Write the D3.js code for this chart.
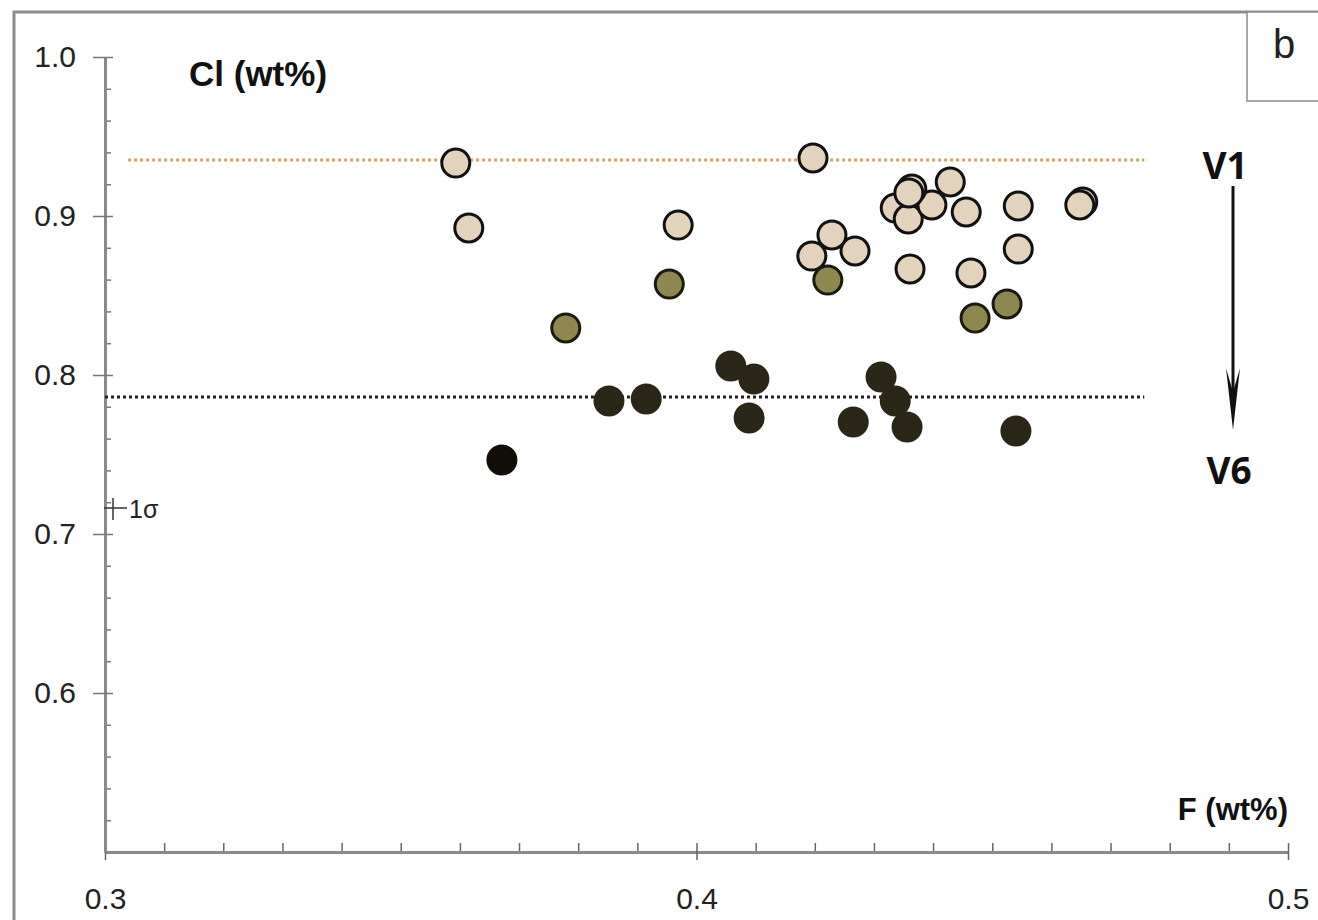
<!DOCTYPE html>
<html>
<head>
<meta charset="utf-8">
<script src="https://cdn.jsdelivr.net/npm/d3@7"></script>
<style>
  body { margin: 0; background: #fff; }
  svg { display: block; font-family: "Liberation Sans", Arial, sans-serif; }
</style>
</head>
<body>
<svg width="1318" height="920"></svg>
<script>
// data: F (wt%), Cl (wt%)
var lightF  = [0.3593, 0.3615, 0.3969, 0.4197, 0.4195, 0.4229, 0.4268, 0.4336, 0.4358, 0.4398, 0.4429,
               0.4456, 0.4544, 0.4653, 0.4648, 0.4361, 0.4464, 0.4544, 0.4364, 0.4359];
var lightCl = [0.9333, 0.8925, 0.8943, 0.9365, 0.8748, 0.8881, 0.8780, 0.9050, 0.8981, 0.9069, 0.9214,
               0.9025, 0.9063, 0.9088, 0.9069, 0.8667, 0.8642, 0.8792, 0.9170, 0.9145];
var oliveF  = [0.3779, 0.3954, 0.4222, 0.4525, 0.4471];
var oliveCl = [0.8296, 0.8572, 0.8597, 0.8447, 0.8358];
var darkF   = [0.3852, 0.3915, 0.4058, 0.4097, 0.4089, 0.4312, 0.4336, 0.4265, 0.4356, 0.4540];
var darkCl  = [0.7836, 0.7849, 0.8057, 0.7975, 0.7730, 0.7987, 0.7836, 0.7704, 0.7673, 0.7648];
var blackF  = [0.3671];
var blackCl = [0.7465];

var v1Level = 0.9352;
var v6Level = 0.7862;

var xMajor = [0.3, 0.4, 0.5];
var yMajor = [0.6, 0.7, 0.8, 0.9, 1.0];

var svg = d3.select("svg");

var axisColor = "#8a8a8a";
var textColor = "#222";

var x = d3.scaleLinear().domain([0.3, 0.5]).range([105, 1288]);
var y = d3.scaleLinear().domain([0.5, 1.0]).range([852, 57]);

// outer frame
svg.append("rect")
    .attr("x", 14).attr("y", 12)
    .attr("width", 1330).attr("height", 930)
    .attr("fill", "none")
    .attr("stroke", "#8c8c8c")
    .attr("stroke-width", 3);

// panel letter box
svg.append("rect")
    .attr("x", 1247).attr("y", 12)
    .attr("width", 90).attr("height", 89)
    .attr("fill", "#fff")
    .attr("stroke", "#8c8c8c")
    .attr("stroke-width", 1.5);
svg.append("text")
    .attr("x", 1284).attr("y", 58)
    .attr("text-anchor", "middle")
    .attr("font-size", 40)
    .attr("fill", textColor)
    .text("b");

// x axis: minor ticks
var xMinor = d3.range(0.31, 0.5, 0.01).filter(function(v) { return Math.abs(v - 0.4) > 0.001; });
svg.append("g")
    .attr("transform", "translate(0," + y(0.5) + ")")
    .call(d3.axisBottom(x).tickValues(xMinor).tickSize(-9).tickFormat(""))
    .call(function(g) {
        g.select(".domain").remove();
        g.selectAll(".tick line").attr("stroke", "#666").attr("stroke-width", 1.5);
    });

// x axis: major ticks + labels
svg.append("g")
    .attr("class", "axis axis--x")
    .attr("transform", "translate(0," + y(0.5) + ")")
    .call(d3.axisBottom(x).tickValues(xMajor).tickSize(8).tickSizeOuter(0).tickPadding(28).tickFormat(d3.format(".1f")))
    .call(function(g) {
        g.select(".domain").attr("stroke", axisColor).attr("stroke-width", 3);
        g.selectAll(".tick line").attr("y1", -9).attr("stroke", "#666").attr("stroke-width", 1.5);
        g.selectAll(".tick text")
            .attr("font-size", 30)
            .attr("fill", textColor);
    });

// y axis: minor ticks
var yMinor = d3.range(0.52, 1.0, 0.02).filter(function(v) { return Math.abs(v * 10 - Math.round(v * 10)) > 0.01; });
svg.append("g")
    .attr("transform", "translate(" + x(0.3) + ",0)")
    .call(d3.axisLeft(y).tickValues(yMinor).tickSize(-6).tickFormat(""))
    .call(function(g) {
        g.select(".domain").remove();
        g.selectAll(".tick line").attr("stroke", "#777").attr("stroke-width", 1.5);
    });

// y axis: major ticks + labels
svg.append("g")
    .attr("class", "axis axis--y")
    .attr("transform", "translate(" + x(0.3) + ",0)")
    .call(d3.axisLeft(y).tickValues(yMajor).tickSize(12).tickSizeOuter(0).tickPadding(17).tickFormat(d3.format(".1f")))
    .call(function(g) {
        g.select(".domain").attr("stroke", axisColor).attr("stroke-width", 3);
        g.selectAll(".tick line").attr("x2", 8).attr("x1", -12).attr("stroke", "#777").attr("stroke-width", 1.5);
        g.selectAll(".tick text").attr("font-size", 30).attr("fill", textColor);
    });

// axis titles
svg.append("text")
    .attr("x", 189).attr("y", 86)
    .attr("font-size", 35)
    .attr("font-weight", "bold")
    .attr("fill", "#111")
    .text("Cl (wt%)");
svg.append("text")
    .attr("x", 1288).attr("y", 820)
    .attr("text-anchor", "end")
    .attr("font-size", 31)
    .attr("font-weight", "bold")
    .attr("fill", "#111")
    .text("F (wt%)");

// reference levels
svg.append("line")
    .attr("x1", x(0.3039)).attr("x2", x(0.4757))
    .attr("y1", y(v1Level)).attr("y2", y(v1Level))
    .attr("stroke", "#d2a860")
    .attr("stroke-width", 3)
    .attr("stroke-dasharray", "3,3");
svg.append("line")
    .attr("x1", x(0.3)).attr("x2", x(0.4757))
    .attr("y1", y(v6Level)).attr("y2", y(v6Level))
    .attr("stroke", "#222")
    .attr("stroke-width", 3)
    .attr("stroke-dasharray", "3,3");

// 1 sigma marker
var sig = svg.append("g");
sig.append("line")
    .attr("x1", 104).attr("x2", 127)
    .attr("y1", 508).attr("y2", 508)
    .attr("stroke", "#333").attr("stroke-width", 1.5);
sig.append("line")
    .attr("x1", 113).attr("x2", 113)
    .attr("y1", 498).attr("y2", 520)
    .attr("stroke", "#333").attr("stroke-width", 1.5);
sig.append("text")
    .attr("x", 129).attr("y", 518)
    .attr("font-size", 25)
    .attr("fill", textColor)
    .text("1σ");

// V1 -> V6 arrow
svg.append("text")
    .attr("x", 1225).attr("y", 179)
    .attr("text-anchor", "middle")
    .attr("font-family", "'Open Sans', 'Noto Sans', sans-serif")
    .attr("font-size", 37)
    .attr("font-weight", "bold")
    .attr("fill", "#111")
    .text("V1");
svg.append("text")
    .attr("x", 1229).attr("y", 484)
    .attr("text-anchor", "middle")
    .attr("font-family", "'Open Sans', 'Noto Sans', sans-serif")
    .attr("font-size", 37)
    .attr("font-weight", "bold")
    .attr("fill", "#111")
    .text("V6");
svg.append("line")
    .attr("x1", 1233).attr("x2", 1233)
    .attr("y1", 186).attr("y2", 400)
    .attr("stroke", "#111").attr("stroke-width", 3);
svg.append("path")
    .attr("d", "M1226,368 L1233,430 L1240,368 L1233,392 Z")
    .attr("fill", "#111");

// points
function drawPoints(fs, cls, fill, stroke) {
    var data = fs.map(function(f, i) { return [f, cls[i]]; });
    svg.append("g").selectAll("circle")
        .data(data)
        .enter().append("circle")
        .attr("cx", function(d) { return x(d[0]); })
        .attr("cy", function(d) { return y(d[1]); })
        .attr("r", 14)
        .attr("fill", fill)
        .attr("stroke", stroke)
        .attr("stroke-width", 3);
}
drawPoints(lightF, lightCl, "#e3d3bd", "#111");
drawPoints(oliveF, oliveCl, "#8e8850", "#1a1a10");
drawPoints(darkF, darkCl, "#2b2718", "#2b2718");
drawPoints(blackF, blackCl, "#120f08", "#120f08");
</script>
</body>
</html>
